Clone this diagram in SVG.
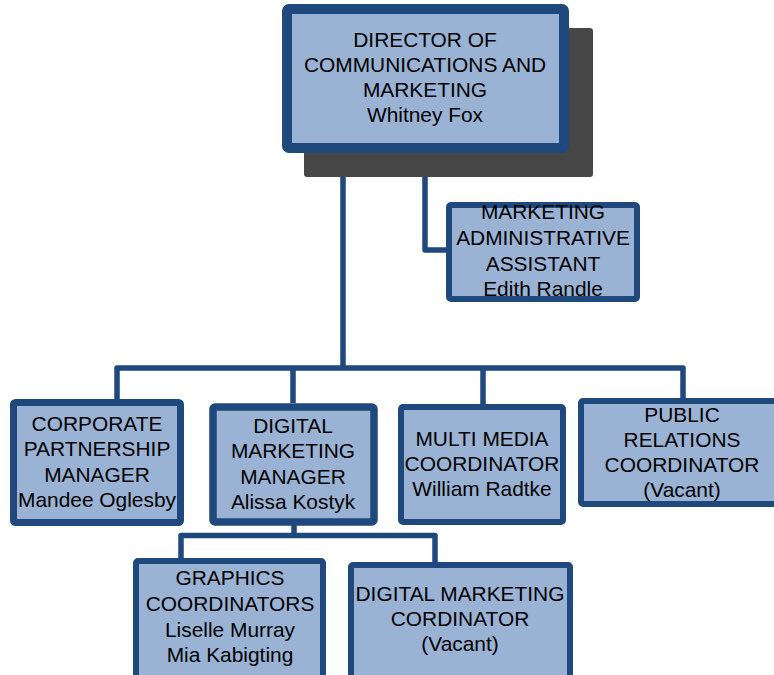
<svg xmlns="http://www.w3.org/2000/svg" width="774" height="675" viewBox="0 0 774 675">
<style>
.box{fill:#9AB3D4;stroke:#1F497D;stroke-linejoin:round}
.t{font-family:"Liberation Sans",Arial,sans-serif;font-size:20.9px;fill:#000;text-anchor:middle}
.c{fill:none;stroke:#1F497D;stroke-width:5.5;stroke-linejoin:round}
</style>
<rect width="774" height="675" fill="#fff"/>
<g id="connectors">
<path class="c" d="M343,150 V368 M117,399 V368 H683 V398 M293,368 V403 M483,368 V404"/>
<path class="c" d="M425,150 V250 H447"/>
<path class="c" d="M294,524 V535.5 M181,558 V535.5 H435 V562"/>
</g>
<g id="director">
<rect x="304" y="28" width="289" height="149" rx="3" fill="#474747"/>
<rect class="box" x="287" y="9" width="277" height="139" rx="2" stroke-width="10"/>
<text class="t" x="425" y="47">DIRECTOR OF</text>
<text class="t" x="425" y="72">COMMUNICATIONS AND</text>
<text class="t" x="425" y="97">MARKETING</text>
<text class="t" x="425" y="122">Whitney Fox</text>
</g>
<g id="assistant">
<rect class="box" x="449" y="205" width="188" height="94" rx="2" stroke-width="6"/>
<text class="t" x="543" y="219">MARKETING</text>
<text class="t" x="543" y="245">ADMINISTRATIVE</text>
<text class="t" x="543" y="271">ASSISTANT</text>
<text class="t" x="543" y="296">Edith Randle</text>
</g>
<g id="corporate">
<rect class="box" x="13.5" y="402.5" width="167" height="120" rx="2" stroke-width="7"/>
<text class="t" x="97" y="431">CORPORATE</text>
<text class="t" x="97" y="456">PARTNERSHIP</text>
<text class="t" x="97" y="482">MANAGER</text>
<text class="t" x="97" y="507">Mandee Oglesby</text>
</g>
<g id="dmm">
<rect class="box" x="213" y="407" width="161" height="115" rx="2" stroke-width="7.5"/>
<text class="t" x="293" y="433">DIGITAL</text>
<text class="t" x="293" y="458">MARKETING</text>
<text class="t" x="293" y="484">MANAGER</text>
<text class="t" x="293" y="509">Alissa Kostyk</text>
</g>
<g id="multimedia">
<rect class="box" x="401" y="407" width="162" height="115" rx="2" stroke-width="6"/>
<text class="t" x="482" y="446">MULTI MEDIA</text>
<text class="t" x="482" y="471">COORDINATOR</text>
<text class="t" x="482" y="496">William Radtke</text>
</g>
<g id="publicrelations">
<rect class="box" x="581" y="401" width="200" height="103" rx="2" stroke-width="6"/>
<text class="t" x="682" y="422">PUBLIC</text>
<text class="t" x="682" y="447">RELATIONS</text>
<text class="t" x="682" y="472">COORDINATOR</text>
<text class="t" x="682" y="497">(Vacant)</text>
</g>
<g id="graphics">
<rect class="box" x="136" y="561" width="187" height="130" rx="2" stroke-width="6"/>
<text class="t" x="230" y="585">GRAPHICS</text>
<text class="t" x="230" y="611">COORDINATORS</text>
<text class="t" x="230" y="637">Liselle Murray</text>
<text class="t" x="230" y="662">Mia Kabigting</text>
</g>
<g id="dmc">
<rect class="box" x="351" y="565" width="219" height="130" rx="2" stroke-width="6"/>
<text class="t" x="460" y="601">DIGITAL MARKETING</text>
<text class="t" x="460" y="626">CORDINATOR</text>
<text class="t" x="460" y="651">(Vacant)</text>
</g>
</svg>
